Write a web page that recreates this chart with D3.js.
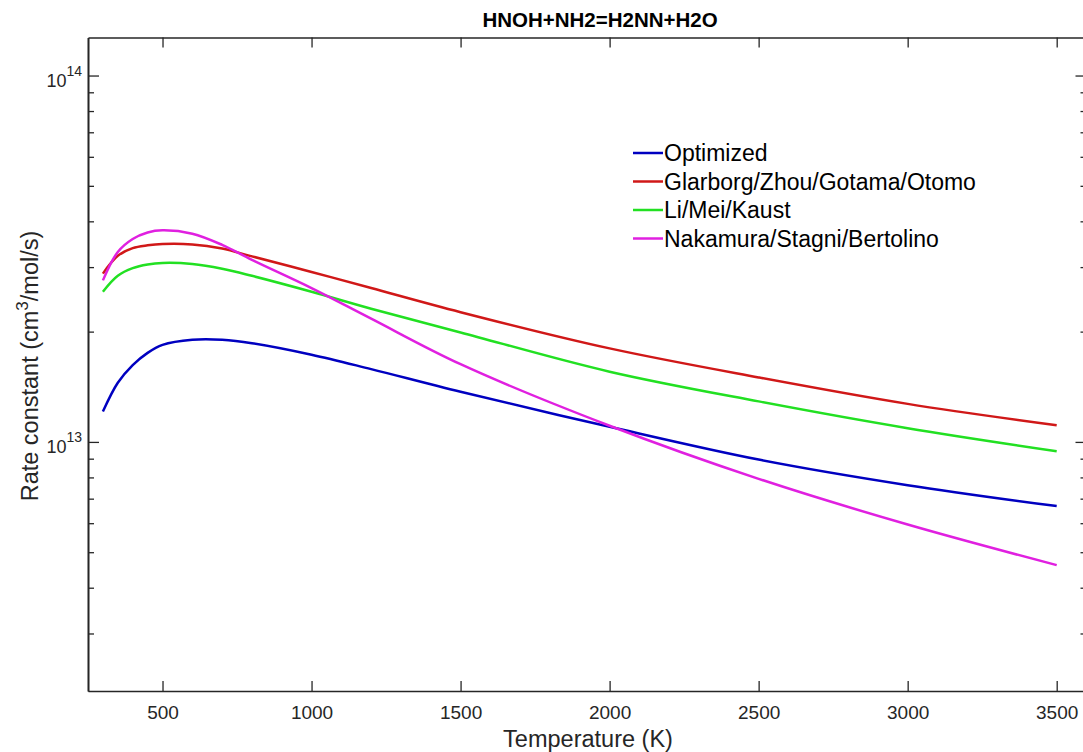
<!DOCTYPE html>
<html>
<head>
<meta charset="utf-8">
<script src="https://cdn.jsdelivr.net/npm/d3@7"></script>
<style>
  body { margin: 0; background: #fff; }
  svg { display: block; font-family: "Liberation Sans", Arial, sans-serif; }
</style>
</head>
<body>
<svg width="1083" height="752"></svg>
<script>
// temperature grid (K)
var temps = [300, 350, 400, 450, 500, 600, 700, 800, 1000, 1200, 1500, 2000, 2500, 3000, 3500];

// rate constants, cm3/mol/s
var optimized = [1.21e13, 1.45e13, 1.62e13, 1.75e13, 1.84e13, 1.90e13, 1.90e13, 1.86e13, 1.73e13, 1.58e13, 1.37e13, 1.10e13, 8.95e12, 7.62e12, 6.68e12];
var glarborg  = [2.88e13, 3.22e13, 3.38e13, 3.44e13, 3.47e13, 3.46e13, 3.37e13, 3.21e13, 2.91e13, 2.63e13, 2.26e13, 1.80e13, 1.50e13, 1.27e13, 1.11e13];
var liMei     = [2.57e13, 2.84e13, 2.98e13, 3.05e13, 3.08e13, 3.06e13, 2.97e13, 2.84e13, 2.57e13, 2.31e13, 1.99e13, 1.555e13, 1.29e13, 1.09e13, 9.43e12];
var nakamura  = [2.76e13, 3.30e13, 3.58e13, 3.73e13, 3.78e13, 3.70e13, 3.45e13, 3.14e13, 2.63e13, 2.17e13, 1.63e13, 1.107e13, 7.93e12, 5.95e12, 4.61e12];

var seriesNames = ["Optimized", "Glarborg/Zhou/Gotama/Otomo", "Li/Mei/Kaust", "Nakamura/Stagni/Bertolino"];
var seriesColors = ["#0000c0", "#d01818", "#22e022", "#e020e0"];
var seriesValues = [optimized, glarborg, liMei, nakamura];

var xTicks = [500, 1000, 1500, 2000, 2500, 3000, 3500];
var yMajor = [1e13, 1e14];
var yMinor = [3e12, 4e12, 5e12, 6e12, 7e12, 8e12, 9e12, 2e13, 3e13, 4e13, 5e13, 6e13, 7e13, 8e13, 9e13];

var svg = d3.select("svg");

// plot box (note: "top" is taken by window.top, so use other names)
var plotLeft = 88, plotRight = 1086.5, plotTop = 37.5, plotBottom = 691;

var x = d3.scaleLinear().domain([250, 3600]).range([plotLeft, plotRight]);
var y = d3.scaleLog().domain([2.09e12, 1.27e14]).range([plotBottom, plotTop]);

var axisColor = "#262626";

// curves
var line = d3.line()
    .x(function (d) { return x(d[0]); })
    .y(function (d) { return y(d[1]); })
    .curve(d3.curveCatmullRom.alpha(0.5));

var curves = svg.append("g").attr("class", "curves");
seriesValues.forEach(function (vals, i) {
    var pts = temps.map(function (t, j) { return [t, vals[j]]; });
    curves.append("path")
        .datum(pts)
        .attr("d", line)
        .attr("fill", "none")
        .attr("stroke", seriesColors[i])
        .attr("stroke-width", 2.5);
});

// axes: bottom + top
function styleAxis(g) {
    g.select(".domain").attr("stroke", axisColor).attr("stroke-width", 1.6);
    g.selectAll(".tick line").attr("stroke", axisColor).attr("stroke-width", 1.3);
}

var xBottom = svg.append("g")
    .attr("transform", "translate(0," + plotBottom + ")")
    .call(d3.axisBottom(x).tickValues(xTicks).tickSize(-10).tickSizeOuter(0).tickPadding(10).tickFormat(d3.format("d")));
styleAxis(xBottom);
xBottom.selectAll(".tick text").attr("font-size", 19).attr("fill", axisColor).attr("dy", "0.95em")
    .attr("font-family", "Liberation Sans, Arial, sans-serif");

var xTop = svg.append("g")
    .attr("transform", "translate(0," + plotTop + ")")
    .call(d3.axisTop(x).tickValues(xTicks).tickSize(-10).tickSizeOuter(0).tickFormat(""));
styleAxis(xTop);

// axes: left + right (major and minor ticks)
var yLeft = svg.append("g")
    .attr("transform", "translate(" + plotLeft + ",0)")
    .call(d3.axisLeft(y).tickValues(yMajor).tickSize(-11).tickSizeOuter(0).tickFormat(""));
styleAxis(yLeft);
var yLeftMinor = svg.append("g")
    .attr("transform", "translate(" + plotLeft + ",0)")
    .call(d3.axisLeft(y).tickValues(yMinor).tickSize(-6).tickSizeOuter(0).tickFormat(""));
styleAxis(yLeftMinor);

var yRight = svg.append("g")
    .attr("transform", "translate(" + plotRight + ",0)")
    .call(d3.axisRight(y).tickValues(yMajor).tickSize(-11).tickSizeOuter(0).tickFormat(""));
styleAxis(yRight);
var yRightMinor = svg.append("g")
    .attr("transform", "translate(" + plotRight + ",0)")
    .call(d3.axisRight(y).tickValues(yMinor).tickSize(-6).tickSizeOuter(0).tickFormat(""));
styleAxis(yRightMinor);

// power-of-ten labels
var yLab = svg.append("g").attr("class", "ylabels");
yMajor.forEach(function (v) {
    var t = yLab.append("text")
        .attr("x", 82)
        .attr("y", y(v) + 11)
        .attr("text-anchor", "end")
        .attr("font-size", 18)
        .attr("fill", axisColor);
    t.append("tspan").text("10");
    t.append("tspan").attr("font-size", 14).attr("dy", -11).text(Math.round(Math.log10(v)));
});

// title
svg.append("text")
    .attr("x", 600)
    .attr("y", 27)
    .attr("text-anchor", "middle")
    .attr("font-size", 20.5)
    .attr("font-weight", "bold")
    .attr("fill", "#000")
    .text("HNOH+NH2=H2NN+H2O");

// x label
svg.append("text")
    .attr("x", 588)
    .attr("y", 747)
    .attr("text-anchor", "middle")
    .attr("font-size", 23.5)
    .attr("fill", axisColor)
    .text("Temperature (K)");

// y label
var yl = svg.append("text")
    .attr("transform", "translate(38,366) rotate(-90)")
    .attr("text-anchor", "middle")
    .attr("font-size", 23.5)
    .attr("fill", axisColor);
yl.append("tspan").text("Rate constant (cm");
yl.append("tspan").attr("font-size", 17).attr("dy", -10).text("3");
yl.append("tspan").attr("dy", 10).text("/mol/s)");

// legend
var legend = svg.append("g").attr("transform", "translate(633,153)");
seriesNames.forEach(function (name, i) {
    var row = legend.append("g").attr("transform", "translate(0," + (i * 28.5) + ")");
    row.append("line")
        .attr("x1", 0).attr("x2", 30)
        .attr("y1", 0).attr("y2", 0)
        .attr("stroke", seriesColors[i])
        .attr("stroke-width", 2.5);
    row.append("text")
        .attr("x", 31)
        .attr("y", 0)
        .attr("dy", "0.35em")
        .attr("font-size", 23)
        .attr("fill", "#000")
        .text(name);
});
</script>
</body>
</html>
